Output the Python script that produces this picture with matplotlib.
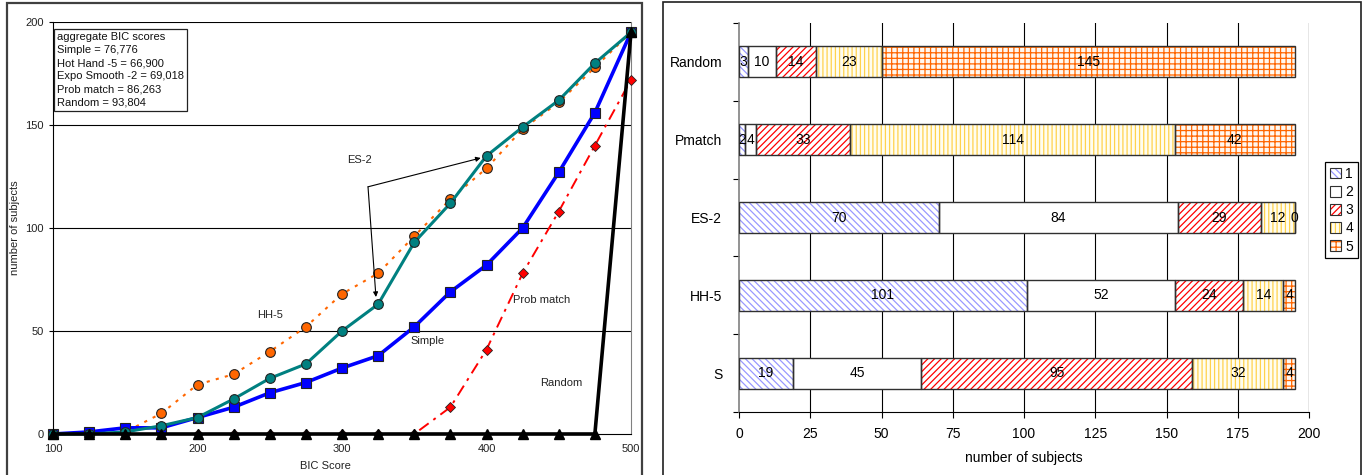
import matplotlib
matplotlib.use("Agg")
import matplotlib.pyplot as plt
from matplotlib.patches import Rectangle, Patch
from matplotlib.legend_handler import HandlerTuple

# ---------------- data ----------------
bic_x = [100, 125, 150, 175, 200, 225, 250, 275, 300, 325, 350, 375, 400, 425, 450, 475, 500]
simple = [0, 1, 3, 3, 8, 13, 20, 25, 32, 38, 52, 69, 82, 100, 127, 156, 195]
es2 = [0, 0, 1, 4, 8, 17, 27, 34, 50, 63, 93, 112, 135, 149, 162, 180, 195]
hh5 = [0, 0, 1, 10, 24, 29, 40, 52, 68, 78, 96, 114, 129, 148, 161, 178, 195]
probmatch = [0, 0, 0, 0, 0, 0, 0, 0, 0, 0, 0, 13, 41, 78, 108, 140, 172]
random_ = [0, 0, 0, 0, 0, 0, 0, 0, 0, 0, 0, 0, 0, 0, 0, 0, 195]

summary_lines = ["aggregate BIC scores", "Simple = 76,776", "Hot Hand -5 = 66,900",
                 "Expo Smooth -2 = 69,018", "Prob match = 86,263", "Random = 93,804"]

models = ["S", "HH-5", "ES-2", "Pmatch", "Random"]
rank1 = [19, 101, 70, 2, 3]
rank2 = [45, 52, 84, 4, 10]
rank3 = [95, 24, 29, 33, 14]
rank4 = [32, 14, 12, 114, 23]
rank5 = [4, 4, 0, 42, 145]
rank_labels = ["1", "2", "3", "4", "5"]

# ---------------- figure ----------------
plt.rcParams['font.family'] = ['Liberation Sans', 'DejaVu Sans']
plt.rcParams['hatch.linewidth'] = 0.9
W, H = 1363, 475
fig = plt.figure(figsize=(W / 100, H / 100), dpi=100)

# panel borders
fig.patches.append(Rectangle((7 / W, -0.02), (642 - 7) / W, 1.02 - 3 / H, transform=fig.transFigure,
                             fill=False, edgecolor='#404040', lw=1.6))
fig.patches.append(Rectangle((663 / W, -0.02), (1361 - 663) / W, 1.02 - 2 / H, transform=fig.transFigure,
                             fill=False, edgecolor='#202020', lw=1.2))

# ---------------- left chart ----------------
ax = fig.add_axes([53 / W, (H - 434) / H, (631 - 53) / W, (434 - 22) / H])
ax.set_xlim(100, 500)
ax.set_ylim(0, 200)
for yv in [50, 100, 150, 200]:
    ax.axhline(yv, color='black', lw=0.8, zorder=1)
ax.spines['top'].set_visible(False)
ax.spines['right'].set_color('#808080')
ax.spines['left'].set_color('black')
ax.spines['bottom'].set_color('black')
ax.set_xticks([100, 200, 300, 400, 500])
ax.set_yticks([0, 50, 100, 150, 200])
ax.tick_params(axis='both', labelsize=8, length=3, width=0.8, colors='black', labelcolor='#222222')
ax.tick_params(axis='x', length=0, pad=7)

ax.plot(bic_x, hh5, color='#FF6600', lw=1.5, linestyle=(0, (1.5, 3)), marker='o', ms=7,
        mfc='#FF6600', mec='#222222', mew=0.8, zorder=3, clip_on=False)
ax.plot(bic_x, probmatch, color='#FF0000', lw=1.4, linestyle=(0, (6, 3, 1.5, 3)), marker='D', ms=5,
        mfc='#FF0000', mec='#222222', mew=0.6, zorder=3, clip_on=False)
ax.plot(bic_x, simple, color='#0000FF', lw=2.6, marker='s', ms=7, mfc='#0000FF', mec='#222222',
        mew=0.8, zorder=4, clip_on=False)
ax.plot(bic_x, es2, color='#008080', lw=2.2, marker='o', ms=7, mfc='#008080', mec='#222222',
        mew=0.8, zorder=5, clip_on=False)
ax.plot(bic_x, random_, color='black', lw=2.6, marker='^', ms=7, mfc='black', mec='black',
        zorder=6, clip_on=False)

ax.set_xlabel("BIC Score", fontsize=8, color='#222222')
ax.xaxis.set_label_coords((325 - 53) / 578, -0.065)
ax.set_ylabel("number of subjects", fontsize=8, color='#222222')
ax.yaxis.set_label_coords(-0.057, 0.5)

ax.text(0.007, 0.976, "\n".join(summary_lines), transform=ax.transAxes, fontsize=8,
        va='top', ha='left', color='#111111', linespacing=1.4, zorder=10,
        bbox=dict(boxstyle='square,pad=0.3', facecolor='white', edgecolor='#222222', lw=0.9))

ax.text(312, 133, "ES-2", fontsize=8, ha='center', va='center', color='#222222')
ax.text(250, 58, "HH-5", fontsize=8, ha='center', va='center', color='#222222')
ax.text(359, 45, "Simple", fontsize=8, ha='center', va='center', color='#222222')
ax.text(438, 65, "Prob match", fontsize=8, ha='center', va='center', color='#222222')
ax.text(452, 25, "Random", fontsize=8, ha='center', va='center', color='#222222')
for tgt in [(396, 134), (323.5, 66.5)]:
    ax.annotate('', xy=tgt, xytext=(318, 120),
                arrowprops=dict(arrowstyle='-|>', color='black', lw=0.8, mutation_scale=7,
                                shrinkA=0, shrinkB=0), zorder=7)

# ---------------- right chart ----------------
bx = fig.add_axes([739 / W, (H - 412) / H, (1309 - 739) / W, (412 - 23) / H])
bx.set_xlim(0, 200)
bx.set_ylim(-0.5, 4.5)
for xv in [25, 50, 75, 100, 125, 150, 175]:
    bx.axvline(xv, color='black', lw=0.8, zorder=0)
bx.axvline(200, color='#808080', lw=1.0, zorder=0)
bx.spines['top'].set_visible(False)
bx.spines['right'].set_visible(False)
bx.spines['left'].set_color('#808080')
bx.spines['left'].set_linewidth(1.2)
bx.spines['bottom'].set_color('black')

ypos = list(range(len(models)))
bx.set_yticks(ypos)
bx.set_yticklabels(models)
bx.set_yticks([-0.5, 0.5, 1.5, 2.5, 3.5, 4.5], minor=True)
bx.tick_params(axis='y', which='major', length=0, pad=12, labelsize=10)
bx.tick_params(axis='y', which='minor', length=4, width=0.8, color='black')
bx.set_xticks(range(0, 201, 25))
bx.tick_params(axis='x', length=4, width=0.8, labelsize=10, pad=7)
bx.set_xlabel("number of subjects", fontsize=10, labelpad=7)

ranks = [rank1, rank2, rank3, rank4, rank5]
styles = [
    dict(fc='white', hatch='\\\\\\\\\\', hc='#9999FF'),
    dict(fc='white', hatch='', hc='white'),
    dict(fc='white', hatch='/////', hc='#FF0000'),
    dict(fc='#FFFDF0', hatch='||||', hc='#FFD24D'),
    dict(fc='#FFF8F0', hatch='+++', hc='#FF6600'),
]
left = [0] * len(models)
handles = []
for vals, st, lab in zip(ranks, styles, rank_labels):
    bx.barh(ypos, vals, left=left, height=0.4, color=st['fc'], hatch=st['hatch'],
            edgecolor=st['hc'], lw=0, zorder=2)
    bx.barh(ypos, vals, left=left, height=0.4, color='none', edgecolor='#303030', lw=1.0, zorder=3)
    for y, v, l0 in zip(ypos, vals, left):
        bx.text(l0 + v / 2, y, str(v), ha='center', va='center', fontsize=10, color='black', zorder=4)
    handles.append((Patch(facecolor=st['fc'], hatch=st['hatch'], edgecolor=st['hc'], lw=0),
                    Patch(facecolor='none', edgecolor='#303030', lw=0.8)))
    left = [a + b for a, b in zip(left, vals)]

leg = fig.legend(handles, rank_labels, handler_map={tuple: HandlerTuple(ndivide=1)},
                 loc='upper left', bbox_to_anchor=(1325 / W, 1 - 162 / H), fontsize=10,
                 handlelength=0.8, handleheight=0.8, handletextpad=0.3, borderpad=0.35,
                 labelspacing=0.3, fancybox=False, edgecolor='black', framealpha=1,
                 borderaxespad=0)
leg.get_frame().set_linewidth(0.9)

fig.savefig("out.png", dpi=100)
